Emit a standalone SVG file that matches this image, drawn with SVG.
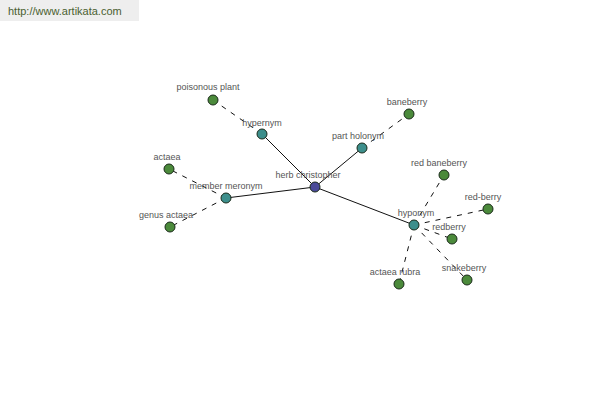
<svg xmlns="http://www.w3.org/2000/svg" width="600" height="400" viewBox="0 0 600 400">
<style>
.lbl{font-family:"Liberation Sans",Arial,sans-serif;font-size:9px;fill:#555;text-anchor:middle}
.n circle{stroke:#1a2a1a;stroke-width:1}
.leaf circle{fill:#4b8a3b}
.mid circle{fill:#3d8f8c}
.root circle{fill:#4a4a98}
.solid{stroke:#111;stroke-width:1;fill:none}
.dash{stroke:#111;stroke-width:1;fill:none;stroke-dasharray:5,6}
</style>
<rect width="600" height="400" fill="#fff"/>
<rect x="0" y="0" width="139" height="21" fill="#eeeeee"/>
<text x="8" y="15" font-family="'Liberation Sans',Arial,sans-serif" font-size="11" fill="#4a6030">http://www.artikata.com</text>
<g id="connectors">
<line class="solid" x1="315" y1="187" x2="262" y2="134"/>
<line class="solid" x1="315" y1="187" x2="362" y2="148"/>
<line class="solid" x1="315" y1="187" x2="226" y2="198"/>
<line class="solid" x1="315" y1="187" x2="414" y2="225"/>
<line class="dash" x1="262" y1="134" x2="213" y2="100"/>
<line class="dash" x1="362" y1="148" x2="409" y2="114"/>
<line class="dash" x1="226" y1="198" x2="169" y2="169"/>
<line class="dash" x1="226" y1="198" x2="170" y2="227"/>
<line class="dash" x1="414" y1="225" x2="444" y2="175"/>
<line class="dash" x1="414" y1="225" x2="488" y2="209"/>
<line class="dash" x1="414" y1="225" x2="452" y2="239"/>
<line class="dash" x1="414" y1="225" x2="399" y2="284"/>
<line class="dash" x1="414" y1="225" x2="467" y2="280"/>
</g>
<g id="herb-christopher" class="n root"><circle cx="315" cy="187" r="5"/><text class="lbl" x="308" y="178">herb christopher</text></g>
<g id="hypernym" class="n mid"><circle cx="262" cy="134" r="5"/><text class="lbl" x="262" y="126">hypernym</text></g>
<g id="poisonous-plant" class="n leaf"><circle cx="213" cy="100" r="5"/><text class="lbl" x="208" y="90">poisonous plant</text></g>
<g id="part-holonym" class="n mid"><circle cx="362" cy="148" r="5"/><text class="lbl" x="358" y="139">part holonym</text></g>
<g id="baneberry" class="n leaf"><circle cx="409" cy="114" r="5"/><text class="lbl" x="407" y="105">baneberry</text></g>
<g id="member-meronym" class="n mid"><circle cx="226" cy="198" r="5"/><text class="lbl" x="226" y="189">member meronym</text></g>
<g id="actaea" class="n leaf"><circle cx="169" cy="169" r="5"/><text class="lbl" x="167" y="160">actaea</text></g>
<g id="genus-actaea" class="n leaf"><circle cx="170" cy="227" r="5"/><text class="lbl" x="166" y="218">genus actaea</text></g>
<g id="hyponym" class="n mid"><circle cx="414" cy="225" r="5"/><text class="lbl" x="416" y="216">hyponym</text></g>
<g id="red-baneberry" class="n leaf"><circle cx="444" cy="175" r="5"/><text class="lbl" x="439" y="166">red baneberry</text></g>
<g id="red-berry" class="n leaf"><circle cx="488" cy="209" r="5"/><text class="lbl" x="483" y="200">red-berry</text></g>
<g id="redberry" class="n leaf"><circle cx="452" cy="239" r="5"/><text class="lbl" x="449" y="230">redberry</text></g>
<g id="actaea-rubra" class="n leaf"><circle cx="399" cy="284" r="5"/><text class="lbl" x="395" y="275">actaea rubra</text></g>
<g id="snakeberry" class="n leaf"><circle cx="467" cy="280" r="5"/><text class="lbl" x="464" y="271">snakeberry</text></g>
</svg>
